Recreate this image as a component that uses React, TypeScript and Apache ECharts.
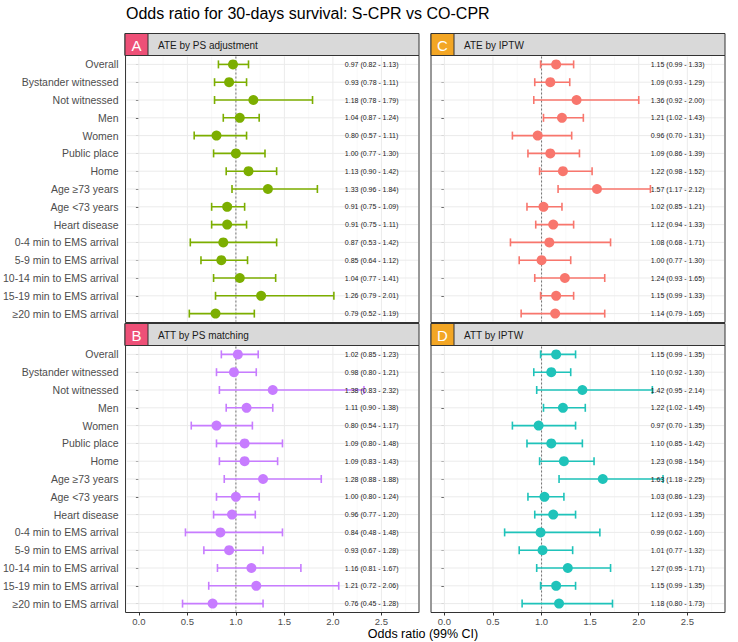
import React, { useEffect, useRef } from "react";
import * as echarts from "echarts";

const categories = [
  "Overall",
  "Bystander witnessed",
  "Not witnessed",
  "Men",
  "Women",
  "Public place",
  "Home",
  "Age \u226573 years",
  "Age <73 years",
  "Heart disease",
  "0-4 min to EMS arrival",
  "5-9 min to EMS arrival",
  "10-14 min to EMS arrival",
  "15-19 min to EMS arrival",
  "\u226520 min to EMS arrival",
];

// A: ATE by PS adjustment
const aEst = [0.97, 0.93, 1.18, 1.04, 0.8, 1.0, 1.13, 1.33, 0.91, 0.91, 0.87, 0.85, 1.04, 1.26, 0.79];
const aLo = [0.82, 0.78, 0.78, 0.87, 0.57, 0.77, 0.9, 0.96, 0.75, 0.75, 0.53, 0.64, 0.77, 0.79, 0.52];
const aHi = [1.13, 1.11, 1.79, 1.24, 1.11, 1.3, 1.42, 1.84, 1.09, 1.11, 1.42, 1.12, 1.41, 2.01, 1.19];

// B: ATT by PS matching
const bEst = [1.02, 0.98, 1.38, 1.11, 0.8, 1.09, 1.09, 1.28, 1.0, 0.96, 0.84, 0.93, 1.16, 1.21, 0.76];
const bLo = [0.85, 0.8, 0.83, 0.9, 0.54, 0.8, 0.83, 0.88, 0.8, 0.77, 0.48, 0.67, 0.81, 0.72, 0.45];
const bHi = [1.23, 1.21, 2.32, 1.38, 1.17, 1.48, 1.43, 1.88, 1.24, 1.2, 1.48, 1.28, 1.67, 2.06, 1.28];

// C: ATE by IPTW
const cEst = [1.15, 1.09, 1.36, 1.21, 0.96, 1.09, 1.22, 1.57, 1.02, 1.12, 1.08, 1.0, 1.24, 1.15, 1.14];
const cLo = [0.99, 0.93, 0.92, 1.02, 0.7, 0.86, 0.98, 1.17, 0.85, 0.94, 0.68, 0.77, 0.93, 0.99, 0.79];
const cHi = [1.33, 1.29, 2.0, 1.43, 1.31, 1.39, 1.52, 2.12, 1.21, 1.33, 1.71, 1.3, 1.65, 1.33, 1.65];

// D: ATT by IPTW
const dEst = [1.15, 1.1, 1.42, 1.22, 0.97, 1.1, 1.23, 1.63, 1.03, 1.12, 0.99, 1.01, 1.27, 1.15, 1.18];
const dLo = [0.99, 0.92, 0.95, 1.02, 0.7, 0.85, 0.98, 1.18, 0.86, 0.93, 0.62, 0.77, 0.95, 0.99, 0.8];
const dHi = [1.35, 1.3, 2.14, 1.45, 1.35, 1.42, 1.54, 2.25, 1.23, 1.35, 1.6, 1.32, 1.71, 1.35, 1.73];

const xTickValues = [0, 0.5, 1, 1.5, 2, 2.5];
const xMinorValues = [0.25, 0.75, 1.25, 1.75, 2.25, 2.75];
const refValue = 1;
const labelXValue = 2.4;
const xMin = -0.1375;
const xMax = 2.8875;

const panelLetters = ["A", "B", "C", "D"];
const panelTitles = ["ATE by PS adjustment", "ATT by PS matching", "ATE by IPTW", "ATT by IPTW"];

const FONT = "'Liberation Sans', Arial, Helvetica, sans-serif";

export default function App() {
  const ref = useRef<HTMLDivElement>(null);

  useEffect(() => {
    if (!ref.current) return;
    const chart = echarts.init(ref.current, undefined, { renderer: "svg" });

    const W = 294;
    const H = 267;
    const stripH = 22;
    const panels = [
      { est: aEst, lo: aLo, hi: aHi, color: "#7CAE00", badge: "#EE5077", left: 125, top: 55.5, yLab: true, xLab: false },
      { est: bEst, lo: bLo, hi: bHi, color: "#C77CFF", badge: "#EE5077", left: 125, top: 345.5, yLab: true, xLab: true },
      { est: cEst, lo: cLo, hi: cHi, color: "#F8766D", badge: "#F3A624", left: 431, top: 55.5, yLab: false, xLab: false },
      { est: dEst, lo: dLo, hi: dHi, color: "#1FC3BA", badge: "#F3A624", left: 431, top: 345.5, yLab: false, xLab: true },
    ];

    const grids: any[] = [];
    const xAxes: any[] = [];
    const yAxes: any[] = [];
    const series: any[] = [];
    const graphics: any[] = [];

    panels.forEach((p, i) => {
      grids.push({
        left: p.left,
        top: p.top,
        width: W,
        height: H,
        show: true,
        backgroundColor: "#FFFFFF",
        borderColor: "#333333",
        borderWidth: 1,
      });
      xAxes.push({
        gridIndex: i,
        type: "value",
        min: xMin,
        max: xMax,
        splitLine: { show: false },
        axisLine: { show: false },
        axisTick: {
          show: p.xLab,
          customValues: xTickValues,
          length: 3,
          lineStyle: { color: "#333333" },
        },
        axisLabel: {
          show: p.xLab,
          customValues: xTickValues,
          formatter: (v: number) => v.toFixed(1),
          fontSize: 9.5,
          color: "#4D4D4D",
          fontFamily: FONT,
          margin: 4,
        },
      });
      yAxes.push({
        gridIndex: i,
        type: "category",
        data: categories,
        inverse: true,
        axisLine: { show: false },
        splitLine: { show: false },
        axisTick: {
          show: true,
          alignWithLabel: true,
          interval: 0,
          length: 3,
          lineStyle: { color: "#333333" },
        },
        axisLabel: {
          show: p.yLab,
          interval: 0,
          fontSize: 10.5,
          color: "#4D4D4D",
          fontFamily: FONT,
          margin: 7,
        },
      });

      const gridData: number[][] = [
        ...xMinorValues.map((v) => [v, 0, 0]),
        ...xTickValues.map((v) => [v, 0, 1]),
        ...categories.map((_, k) => [0, k, 2]),
        [refValue, 0, 3],
      ];
      series.push({
        type: "custom",
        xAxisIndex: i,
        yAxisIndex: i,
        silent: true,
        z: 1,
        data: gridData,
        encode: { x: 0, y: 1 },
        renderItem: (params: any, api: any) => {
          const cs = params.coordSys;
          const kind = api.value(2);
          if (kind === 2) {
            const y = api.coord([0, api.value(1)])[1];
            return {
              type: "line",
              shape: { x1: cs.x + 1, y1: y, x2: cs.x + cs.width - 1, y2: y },
              style: { stroke: "#EBEBEB", lineWidth: 1 },
            };
          }
          const x = api.coord([api.value(0), 0])[0];
          if (kind === 3) {
            return {
              type: "line",
              z2: 5,
              shape: { x1: x, y1: cs.y + 1, x2: x, y2: cs.y + cs.height - 1 },
              style: { stroke: "#555555", lineWidth: 0.8, lineDash: [2, 2] },
            };
          }
          return {
            type: "line",
            shape: { x1: x, y1: cs.y + 1, x2: x, y2: cs.y + cs.height - 1 },
            style: { stroke: kind === 1 ? "#EBEBEB" : "#F3F3F3", lineWidth: kind === 1 ? 1 : 0.6 },
          };
        },
      });

      series.push({
        type: "custom",
        xAxisIndex: i,
        yAxisIndex: i,
        silent: true,
        z: 3,
        data: categories.map((_, k) => [p.est[k], k, p.lo[k], p.hi[k]]),
        encode: { x: [0, 2, 3], y: 1 },
        renderItem: (params: any, api: any) => {
          const k = api.value(1);
          const est = api.value(0);
          const lo = api.value(2);
          const hi = api.value(3);
          const pl = api.coord([lo, k]);
          const ph = api.coord([hi, k]);
          const pe = api.coord([est, k]);
          const pt = api.coord([labelXValue, k]);
          const cap = 4;
          const stroke = { stroke: p.color, lineWidth: 1.6 };
          return {
            type: "group",
            children: [
              { type: "line", shape: { x1: pl[0], y1: pl[1], x2: ph[0], y2: ph[1] }, style: stroke },
              { type: "line", shape: { x1: pl[0], y1: pl[1] - cap, x2: pl[0], y2: pl[1] + cap }, style: stroke },
              { type: "line", shape: { x1: ph[0], y1: ph[1] - cap, x2: ph[0], y2: ph[1] + cap }, style: stroke },
              { type: "circle", shape: { cx: pe[0], cy: pe[1], r: 5 }, style: { fill: p.color } },
              {
                type: "text",
                x: pt[0],
                y: pt[1],
                style: {
                  text: `${est.toFixed(2)} (${lo.toFixed(2)} - ${hi.toFixed(2)})`,
                  fontSize: 7,
                  fontFamily: FONT,
                  fill: "#1A1A1A",
                  align: "center",
                  verticalAlign: "middle",
                },
              },
            ],
          };
        },
      });

      const stripTop = p.top - stripH;
      graphics.push({
        type: "rect",
        silent: true,
        shape: { x: p.left, y: stripTop, width: W, height: stripH },
        style: { fill: "#D9D9D9", stroke: "#333333", lineWidth: 1 },
      });
      graphics.push({
        type: "rect",
        silent: true,
        shape: { x: p.left, y: stripTop, width: 23, height: stripH },
        style: { fill: p.badge, stroke: "#333333", lineWidth: 1 },
      });
      graphics.push({
        type: "text",
        silent: true,
        x: p.left + 11.5,
        y: stripTop + stripH / 2 + 0.5,
        style: {
          text: panelLetters[i],
          fontSize: 15,
          fontFamily: FONT,
          fill: "#FFFFFF",
          align: "center",
          verticalAlign: "middle",
        },
      });
      graphics.push({
        type: "text",
        silent: true,
        x: p.left + 33,
        y: stripTop + stripH / 2 + 0.5,
        style: {
          text: panelTitles[i],
          fontSize: 10,
          fontFamily: FONT,
          fill: "#1A1A1A",
          align: "left",
          verticalAlign: "middle",
        },
      });
    });

    graphics.push({
      type: "text",
      silent: true,
      x: 126,
      y: 13,
      style: {
        text: "Odds ratio for 30-days survival: S-CPR vs CO-CPR",
        fontSize: 16,
        fontFamily: FONT,
        fill: "#000000",
        align: "left",
        verticalAlign: "middle",
      },
    });
    graphics.push({
      type: "text",
      silent: true,
      x: 423,
      y: 634,
      style: {
        text: "Odds ratio (99% CI)",
        fontSize: 12.5,
        fontFamily: FONT,
        fill: "#000000",
        align: "center",
        verticalAlign: "middle",
      },
    });

    chart.setOption({
      animation: false,
      backgroundColor: "#FFFFFF",
      textStyle: { fontFamily: FONT },
      grid: grids,
      xAxis: xAxes,
      yAxis: yAxes,
      series,
      graphic: graphics,
    });

    return () => chart.dispose();
  }, []);

  return <div ref={ref} style={{ width: 738, height: 642, position: "absolute", left: 0, top: 0 }} />;
}
